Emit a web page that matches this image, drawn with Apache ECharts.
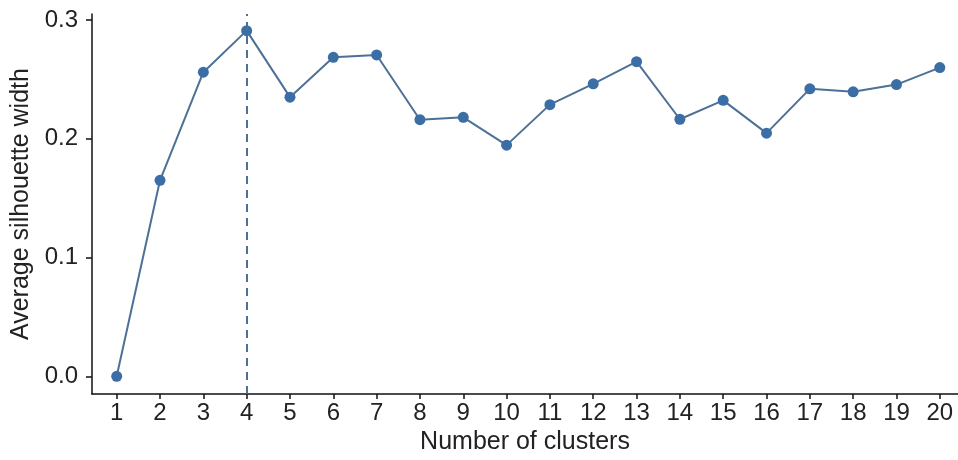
<!DOCTYPE html>
<html>
<head>
<meta charset="utf-8">
<script src="https://cdn.jsdelivr.net/npm/echarts@6/dist/echarts.min.js"></script>
<style>html,body{margin:0;padding:0;background:#fff}#c{width:958px;height:460px}</style>
</head>
<body>
<div id="c"></div>
<script>
const clusters = [1,2,3,4,5,6,7,8,9,10,11,12,13,14,15,16,17,18,19,20];
const silhouette = [0.0,0.165,0.256,0.291,0.235,0.2685,0.2705,0.216,0.218,0.1946,0.2287,0.2462,0.2649,0.2164,0.2323,0.2047,0.242,0.2395,0.2456,0.2599];
const yTicks = [0, 0.1, 0.2, 0.3];
const optimalK = 4;

const chart = echarts.init(document.getElementById('c'), null, {renderer:'canvas'});
const lineColor = '#4d7196';
const pointColor = '#3b6ea5';
const font = "'Liberation Sans', Arial, sans-serif";
chart.setOption({
  animation:false,
  backgroundColor:'#fff',
  grid:{left:92, right:0, top:14, bottom:64},
  xAxis:{
    type:'value', min:0.43, max:20.42,
    name:'Number of clusters', nameLocation:'middle', nameGap:27,
    nameTextStyle:{fontSize:25, color:'#222', fontFamily:font},
    splitLine:{show:false},
    axisLine:{show:true, onZero:false, lineStyle:{color:'#111', width:1.5}},
    axisTick:{show:true, length:5, lineStyle:{color:'#111', width:1.5}, customValues:clusters},
    axisLabel:{fontSize:24, color:'#222', fontFamily:font, margin:7, customValues:clusters}
  },
  yAxis:{
    type:'value', min:-0.015, max:0.305,
    name:'Average silhouette width', nameLocation:'middle', nameGap:57,
    nameTextStyle:{fontSize:25, color:'#222', fontFamily:font},
    splitLine:{show:false},
    axisLine:{show:true, onZero:false, lineStyle:{color:'#111', width:1.5}},
    axisTick:{show:true, length:6, lineStyle:{color:'#111', width:1.5}, customValues:yTicks},
    axisLabel:{fontSize:24, color:'#222', fontFamily:font, margin:14, customValues:yTicks,
      formatter:v=>v.toFixed(1)}
  },
  series:[{
    type:'line',
    data:clusters.map((c,i)=>[c, silhouette[i]]),
    symbol:'circle', symbolSize:11,
    lineStyle:{color:lineColor, width:2},
    itemStyle:{color:pointColor},
    markLine:{
      silent:true, symbol:['none','none'],
      label:{show:false},
      lineStyle:{color:lineColor, type:[8,6], width:2},
      data:[{xAxis:optimalK}]
    }
  }]
});
</script>
</body>
</html>
